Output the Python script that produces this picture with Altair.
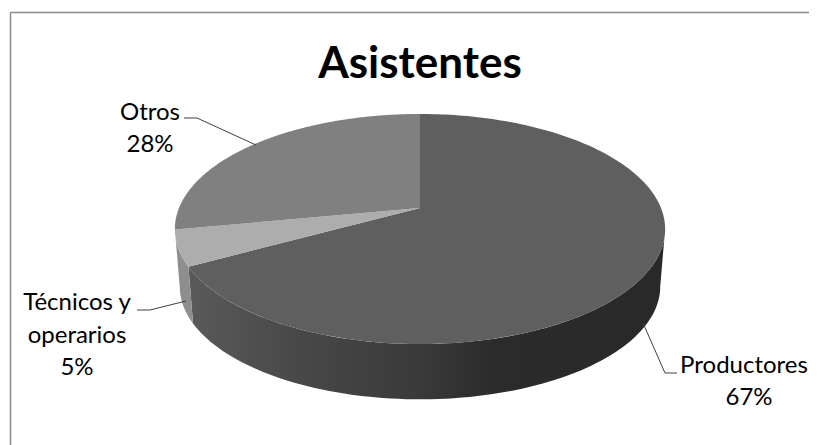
import numpy as np
import pandas as pd
import altair as alt

categories = ["Productores", "Técnicos y\noperarios", "Otros"]
shares = [67, 5, 28]
title_text = "Asistentes"
top_colors = ["#5f5f5f", "#adadad", "#808080"]

# Page-pixel frame of the picture
W, H = 801, 437
X0, Y0 = 8, 8
x_scale = alt.Scale(domain=[X0, X0 + W], range=[0, W])
y_scale = alt.Scale(domain=[Y0, Y0 + H], range=[0, H])
# Perspective disc model
CX, CY, B, A, K = 420.0, 208.0, 241.0, 111.2, 0.1826
DEPTH, SHRINK = 58.0, 0.98


def rim(theta_deg, lower=False):
    t = np.radians(theta_deg)
    u, v = np.sin(t), np.cos(t)
    w = 1 + K * v
    s = SHRINK if lower else 1.0
    return CX + s * B * u / w, CY + (DEPTH if lower else 0) - s * A * v / w


def polygon(frame_x, frame_y):
    return pd.DataFrame({"x": frame_x, "y": frame_y, "i": np.arange(len(frame_x))})


def shape(df, fill):
    return alt.Chart(df).mark_line(
        fill=fill, strokeWidth=0, interpolate="linear-closed"
    ).encode(
        x=alt.X("x:Q", scale=x_scale, axis=None),
        y=alt.Y("y:Q", scale=y_scale, axis=None),
        order="i:Q",
    )


edges = np.cumsum([0] + shares) * 3.6
front_limit = np.degrees(np.arccos(-K))
layers = []

# side walls
wall_gradient = alt.LinearGradient(
    gradient="linear", x1=0, x2=1, y1=0, y2=0,
    stops=[
        alt.GradientStop(color="#5a5a5a", offset=0),
        alt.GradientStop(color="#484848", offset=0.23),
        alt.GradientStop(color="#3a3a3a", offset=0.48),
        alt.GradientStop(color="#2b2b2b", offset=0.64),
        alt.GradientStop(color="#292929", offset=1),
    ],
)
wall_fills = [wall_gradient, "#8e8e8e"]
for k, fill in enumerate(wall_fills):
    a = max(edges[k], front_limit)
    b = edges[k + 1]
    th = np.linspace(a, b, 90)
    tx, ty = rim(th)
    bx, by = rim(th[::-1], lower=True)
    layers.append(shape(polygon(np.r_[tx, bx], np.r_[ty, by]), fill))

# top faces
for k, fill in enumerate(top_colors):
    th = np.linspace(edges[k], edges[k + 1], 200)
    ax, ay = rim(th)
    layers.append(shape(polygon(np.r_[CX, ax], np.r_[CY, ay]), fill))

# frame
frame = pd.DataFrame({"a": [0]})
LINE = "#8c8c8c"
layers.append(alt.Chart(frame).mark_rule(color=LINE, strokeWidth=1.5).encode(
    x=alt.value(10.5 - X0), y=alt.value(12.5 - Y0), y2=alt.value(H)))
layers.append(alt.Chart(frame).mark_rule(color=LINE, strokeWidth=1.5).encode(
    x=alt.value(10.5 - X0), x2=alt.value(W), y=alt.value(12.5 - Y0)))

# leader lines
leaders = [
    [(184, 118), (197, 118), (256, 145)],
    [(137, 310), (150, 310), (186, 301)],
    [(643, 323), (665, 373), (677, 373)],
]
for pts in leaders:
    df = pd.DataFrame(pts, columns=["x", "y"]).assign(i=range(len(pts)))
    layers.append(alt.Chart(df).mark_line(color="#404040", strokeWidth=1).encode(
        x=alt.X("x:Q", scale=x_scale, axis=None),
        y=alt.Y("y:Q", scale=y_scale, axis=None),
        order="i:Q",
    ))

# labels: one mark per printed line
label_lines = [
    (f"{categories[0]}", 744, 373),
    (f"{shares[0]}%", 749, 405),
    ("Técnicos y", 77, 310),
    ("operarios", 77, 343),
    (f"{shares[1]}%", 77, 375),
    (f"{categories[2]}", 150, 120),
    (f"{shares[2]}%", 150, 152),
]
for text, lx, ly in label_lines:
    layers.append(alt.Chart(pd.DataFrame({"t": [text]})).mark_text(
        font="Lato", fontSize=24, color="#000000", align="center", baseline="alphabetic",
    ).encode(text="t:N", x=alt.value(lx - X0), y=alt.value(ly - Y0)))

# title
layers.append(alt.Chart(pd.DataFrame({"t": [title_text]})).mark_text(
    font="Lato", fontSize=44, fontWeight="bold", color="#000000",
    align="center", baseline="alphabetic",
).encode(text="t:N", x=alt.value(420 - X0), y=alt.value(78 - Y0)))

chart = alt.layer(*layers).properties(
    width=W, height=H, padding=0, autosize=alt.AutoSizeParams(type="none"),
    background="#ffffff",
).configure_view(stroke=None)

chart.save("out.html", embed_options={"renderer": "svg", "actions": False})
